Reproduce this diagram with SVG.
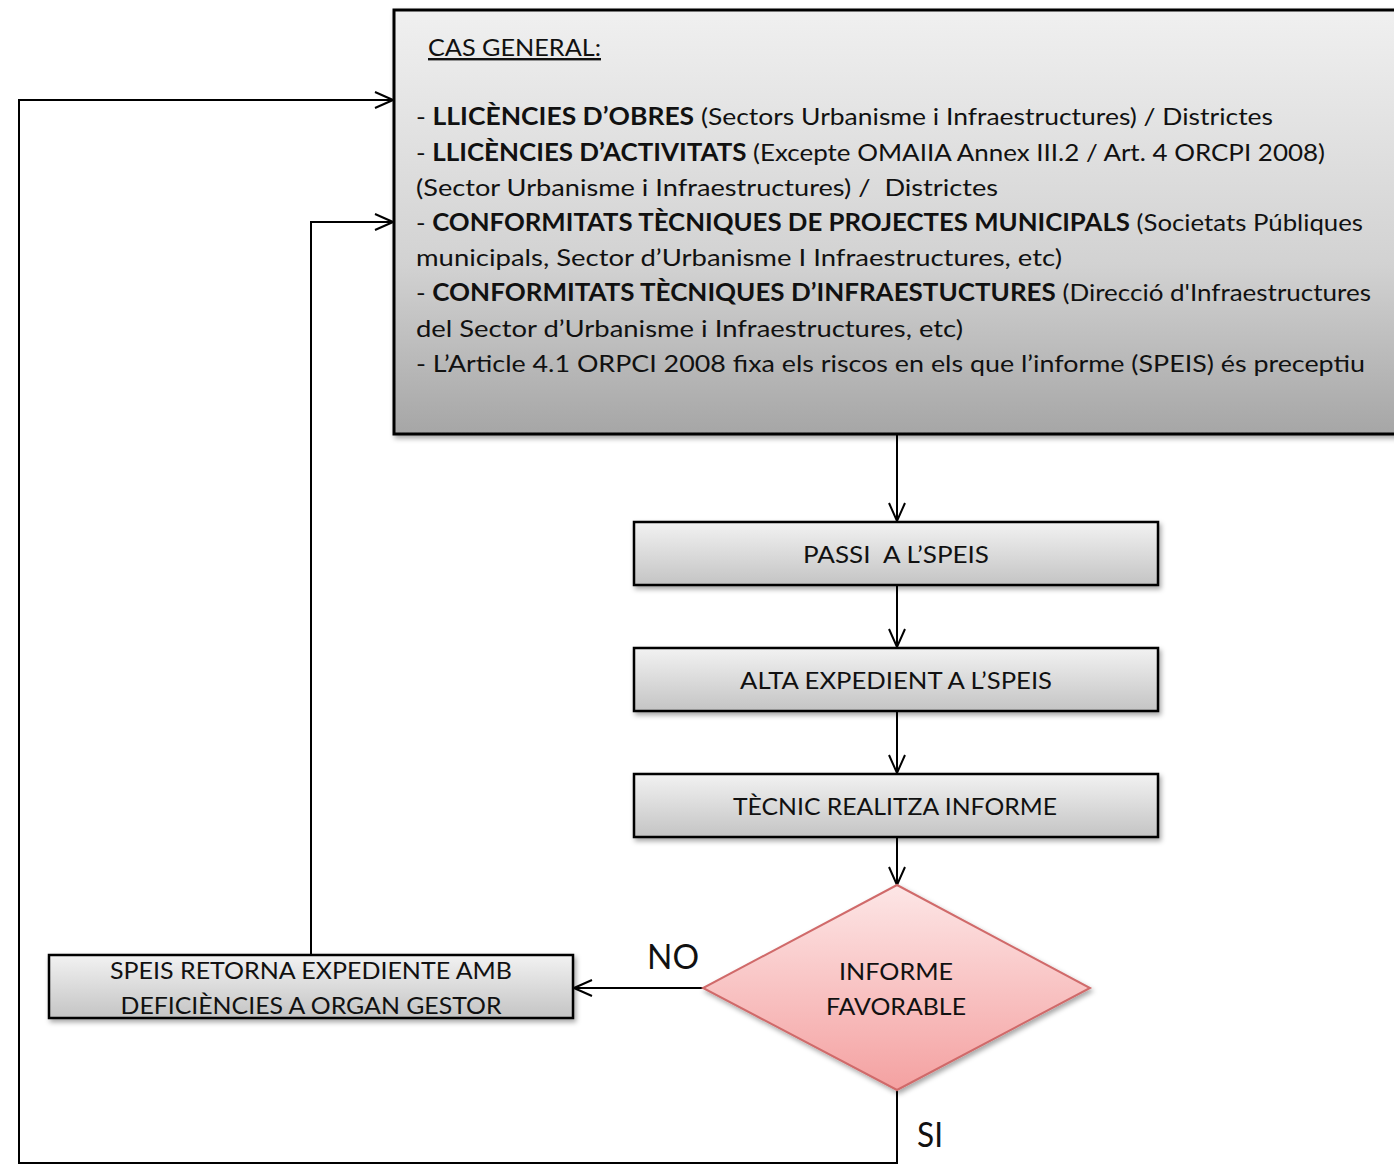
<svg xmlns="http://www.w3.org/2000/svg" width="1394" height="1166" viewBox="0 0 1394 1166">
<defs>
<linearGradient id="gBig" x1="0" y1="0" x2="0" y2="1"><stop offset="0" stop-color="#f0f0f0"/><stop offset="0.6" stop-color="#d2d2d2"/><stop offset="1" stop-color="#a6a6a6"/></linearGradient>
<linearGradient id="gBox" x1="0" y1="0" x2="0" y2="1"><stop offset="0" stop-color="#f2f2f2"/><stop offset="1" stop-color="#c4c4c4"/></linearGradient>
<linearGradient id="gDia" x1="0" y1="0" x2="0" y2="1"><stop offset="0" stop-color="#fde6e6"/><stop offset="1" stop-color="#f4a1a1"/></linearGradient>
<filter id="sh" x="-5%" y="-10%" width="110%" height="130%"><feDropShadow dx="2" dy="3" stdDeviation="2.5" flood-color="#000" flood-opacity="0.35"/></filter>
<marker id="arr" viewBox="0 0 20 20" refX="19" refY="10" markerWidth="20" markerHeight="20" markerUnits="userSpaceOnUse" orient="auto"><path d="M1,2 L19,10 L1,18" fill="none" stroke="#000" stroke-width="2"/></marker>
</defs>
<style>
text{font-family:Lato,"Noto Sans","Liberation Sans",sans-serif;fill:#111;}
.t{font-size:24px;}
.c{font-size:24px;text-anchor:middle;}
.b{font-weight:bold;}
.lbl{font-size:35px;}
.box{fill:url(#gBox);stroke:#000;stroke-width:2.5;filter:url(#sh);}
.ln{fill:none;stroke:#000;stroke-width:2;}
</style>
<rect x="0" y="0" width="1394" height="1166" fill="#fff"/>
<g id="connectors">
<line class="ln" x1="897" y1="434" x2="897" y2="521" marker-end="url(#arr)"/>
<line class="ln" x1="897" y1="585" x2="897" y2="647" marker-end="url(#arr)"/>
<line class="ln" x1="897" y1="711" x2="897" y2="773" marker-end="url(#arr)"/>
<line class="ln" x1="897" y1="837" x2="897" y2="885" marker-end="url(#arr)"/>
<line class="ln" x1="703" y1="988" x2="574" y2="988" marker-end="url(#arr)"/>
<polyline class="ln" points="311,955 311,222 393,222" marker-end="url(#arr)"/>
<polyline class="ln" points="897,1090 897,1163 19,1163 19,100 393,100" marker-end="url(#arr)"/>
<text class="lbl" x="647" y="969" textLength="52" lengthAdjust="spacingAndGlyphs">NO</text>
<text class="lbl" x="917" y="1147" textLength="26" lengthAdjust="spacingAndGlyphs">SI</text>
</g>
<g id="cas-general">
<rect x="394" y="10" width="1010" height="424" fill="url(#gBig)" stroke="#000" stroke-width="3" filter="url(#sh)"/>
<text class="t" x="428" y="56" textLength="173" lengthAdjust="spacingAndGlyphs" text-decoration="underline">CAS GENERAL:</text>
<text class="t" x="416" y="125" textLength="857" lengthAdjust="spacingAndGlyphs">- <tspan class="b">LLICÈNCIES D’OBRES</tspan> (Sectors Urbanisme i Infraestructures) / Districtes</text>
<text class="t" x="416" y="161" textLength="909" lengthAdjust="spacingAndGlyphs">- <tspan class="b">LLICÈNCIES D’ACTIVITATS</tspan> (Excepte OMAIIA Annex III.2 / Art. 4 ORCPI 2008)</text>
<text class="t" x="416" y="196" textLength="582" lengthAdjust="spacingAndGlyphs">(Sector Urbanisme i Infraestructures) /&#160; Districtes</text>
<text class="t" x="416" y="231" textLength="947" lengthAdjust="spacingAndGlyphs">- <tspan class="b">CONFORMITATS TÈCNIQUES DE PROJECTES MUNICIPALS</tspan> (Societats Públiques</text>
<text class="t" x="416" y="266" textLength="646" lengthAdjust="spacingAndGlyphs">municipals, Sector d’Urbanisme I Infraestructures, etc)</text>
<text class="t" x="416" y="301" textLength="955" lengthAdjust="spacingAndGlyphs">- <tspan class="b">CONFORMITATS TÈCNIQUES D’INFRAESTUCTURES</tspan> (Direcció d'Infraestructures</text>
<text class="t" x="416" y="337" textLength="547" lengthAdjust="spacingAndGlyphs">del Sector d’Urbanisme i Infraestructures, etc)</text>
<text class="t" x="416" y="372" textLength="949" lengthAdjust="spacingAndGlyphs">- L’Article 4.1 ORPCI 2008 fixa els riscos en els que l’informe (SPEIS) és preceptiu</text>
</g>
<g id="passi">
<rect class="box" x="634" y="522" width="524" height="63"/>
<text class="c" x="896" y="563" textLength="186" lengthAdjust="spacingAndGlyphs">PASSI&#160; A L’SPEIS</text>
</g>
<g id="alta">
<rect class="box" x="634" y="648" width="524" height="63"/>
<text class="c" x="896" y="689" textLength="312" lengthAdjust="spacingAndGlyphs">ALTA EXPEDIENT A L’SPEIS</text>
</g>
<g id="tecnic">
<rect class="box" x="634" y="774" width="524" height="63"/>
<text class="c" x="895" y="815" textLength="324" lengthAdjust="spacingAndGlyphs">TÈCNIC REALITZA INFORME</text>
</g>
<g id="informe">
<polygon points="897,885 1090,988 897,1090 703,988" fill="url(#gDia)" stroke="#d06a6a" stroke-width="2" filter="url(#sh)"/>
<text class="c" x="896" y="980" textLength="114" lengthAdjust="spacingAndGlyphs">INFORME</text>
<text class="c" x="896" y="1015" textLength="140" lengthAdjust="spacingAndGlyphs">FAVORABLE</text>
</g>
<g id="speis-retorna">
<rect class="box" x="49" y="955" width="524" height="63"/>
<text class="c" x="311" y="979" textLength="402" lengthAdjust="spacingAndGlyphs">SPEIS RETORNA EXPEDIENTE AMB</text>
<text class="c" x="311" y="1014" textLength="381" lengthAdjust="spacingAndGlyphs">DEFICIÈNCIES A ORGAN GESTOR</text>
</g>
</svg>
